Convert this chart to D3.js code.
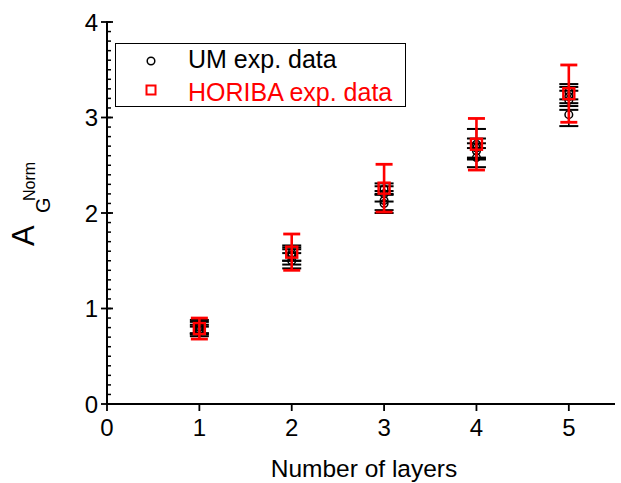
<!DOCTYPE html>
<html>
<head>
<meta charset="utf-8">
<script src="https://cdn.jsdelivr.net/npm/d3@7"></script>
<style>
  html, body { margin: 0; padding: 0; background: #fff; }
  svg { display: block; font-family: "Liberation Sans", Arial, sans-serif; }
</style>
</head>
<body>
<svg id="chart" width="621" height="483"></svg>
<script>
// ---- Data ----
const xTicks = [0, 1, 2, 3, 4, 5];
const yTicks = [0, 1, 2, 3, 4];

// UM experimental data (several measurements per layer count)
const umLayer = [1, 1, 1, 1, 2, 2, 2, 2, 3, 3, 3, 3, 4, 4, 4, 4, 5, 5, 5, 5];
const umValue = [0.81, 0.80, 0.78, 0.76, 1.58, 1.56, 1.55, 1.50, 2.25, 2.20, 2.13, 2.10, 2.72, 2.68, 2.65, 2.58, 3.27, 3.22, 3.18, 3.03];
const umError = [0.07, 0.06, 0.05, 0.05, 0.08, 0.06, 0.09, 0.08, 0.06, 0.08, 0.10, 0.10, 0.16, 0.10, 0.08, 0.10, 0.08, 0.10, 0.10, 0.12];

// HORIBA experimental data
const horibaLayer = [1, 2, 3, 4, 5];
const horibaValue = [0.79, 1.59, 2.26, 2.72, 3.25];
const horibaError = [0.11, 0.19, 0.25, 0.27, 0.30];

const seriesNames = ["UM exp. data", "HORIBA exp. data"];

// ---- Chart ----
const svg = d3.select("#chart");
const x = d3.scaleLinear().domain([0, 5.5]).range([107, 615]);
const y = d3.scaleLinear().domain([0, 4]).range([404, 22]);

// axes
const axisG = svg.append("g");
const minor = d3.range(0, 4.0001, 0.1);
axisG.selectAll("line.minor").data(minor).enter().append("line")
  .attr("x1", x(0)).attr("x2", x(0) + 4)
  .attr("y1", d => y(d)).attr("y2", d => y(d))
  .attr("stroke", "#000").attr("stroke-width", 1.5);
axisG.selectAll("line.ymaj").data(yTicks).enter().append("line")
  .attr("x1", x(0) - 6).attr("x2", x(0) + 6)
  .attr("y1", d => y(d)).attr("y2", d => y(d))
  .attr("stroke", "#000").attr("stroke-width", 1.8);
axisG.selectAll("line.xmaj").data(xTicks).enter().append("line")
  .attr("x1", d => x(d)).attr("x2", d => x(d))
  .attr("y1", y(0)).attr("y2", y(0) + 7)
  .attr("stroke", "#000").attr("stroke-width", 1.8);
axisG.append("line").attr("x1", x(0)).attr("x2", x(0)).attr("y1", y(0) + 1).attr("y2", y(4) - 1)
  .attr("stroke", "#000").attr("stroke-width", 2);
axisG.append("line").attr("x1", x(0) - 1).attr("x2", x(5.5)).attr("y1", y(0)).attr("y2", y(0))
  .attr("stroke", "#000").attr("stroke-width", 2);

// tick labels
svg.selectAll("text.ylab").data(yTicks).enter().append("text")
  .attr("x", x(0) - 9).attr("y", d => y(d) + 8.5)
  .attr("text-anchor", "end").attr("font-size", 24).text(d => d);
svg.selectAll("text.xlab").data(xTicks).enter().append("text")
  .attr("x", d => x(d)).attr("y", 436)
  .attr("text-anchor", "middle").attr("font-size", 24).text(d => d);

// axis titles
svg.append("text").attr("x", 364).attr("y", 477).attr("text-anchor", "middle")
  .attr("font-size", 24.5).text("Number of layers");

const yt = svg.append("g").attr("transform", "translate(34,246) rotate(-90)");
yt.append("text").attr("x", 0).attr("y", 0).attr("font-size", 31).text("A");
yt.append("text").attr("x", 33).attr("y", 16).attr("font-size", 20).text("G");
yt.append("text").attr("x", 45).attr("y", 1).attr("font-size", 16).text("Norm");

// ---- UM data (black) ----
const um = umLayer.map((l, i) => ({ l, v: umValue[i], e: umError[i] }));
const umG = svg.append("g");
um.forEach(d => {
  const cx = x(d.l);
  umG.append("line").attr("x1", cx).attr("x2", cx).attr("y1", y(d.v + d.e)).attr("y2", y(d.v - d.e))
    .attr("stroke", "#000").attr("stroke-width", 1.6);
  [d.v + d.e, d.v - d.e].forEach(t => {
    umG.append("line").attr("x1", cx - 9.5).attr("x2", cx + 9.5).attr("y1", y(t)).attr("y2", y(t))
      .attr("stroke", "#000").attr("stroke-width", 2);
  });
});
um.forEach(d => {
  umG.append("circle").attr("cx", x(d.l)).attr("cy", y(d.v)).attr("r", 3.8)
    .attr("fill", "none").attr("stroke", "#000").attr("stroke-width", 1.5);
});

// ---- HORIBA data (red) ----
const hor = horibaLayer.map((l, i) => ({ l, v: horibaValue[i], e: horibaError[i] }));
const hG = svg.append("g");
hor.forEach(d => {
  const cx = x(d.l);
  hG.append("line").attr("x1", cx).attr("x2", cx).attr("y1", y(d.v + d.e)).attr("y2", y(d.v - d.e))
    .attr("stroke", "#ff0000").attr("stroke-width", 2.6);
  [d.v + d.e, d.v - d.e].forEach(t => {
    hG.append("line").attr("x1", cx - 8.5).attr("x2", cx + 8.5).attr("y1", y(t)).attr("y2", y(t))
      .attr("stroke", "#ff0000").attr("stroke-width", 2.8);
  });
  hG.append("rect").attr("x", cx - 5.5).attr("y", y(d.v) - 5.5).attr("width", 11).attr("height", 11)
    .attr("fill", "none").attr("stroke", "#ff0000").attr("stroke-width", 2.4);
});

// ---- Legend ----
const lg = svg.append("g");
lg.append("rect").attr("x", 115.5).attr("y", 43.5).attr("width", 290).attr("height", 63)
  .attr("fill", "#fff").attr("stroke", "#000").attr("stroke-width", 1);
lg.append("circle").attr("cx", 151).attr("cy", 61).attr("r", 3.8)
  .attr("fill", "none").attr("stroke", "#000").attr("stroke-width", 1.5);
lg.append("text").attr("x", 188).attr("y", 68).attr("font-size", 25).attr("fill", "#000").text(seriesNames[0]);
lg.append("rect").attr("x", 146.5).attr("y", 85.5).attr("width", 9).attr("height", 9)
  .attr("fill", "none").attr("stroke", "#ff0000").attr("stroke-width", 2);
lg.append("text").attr("x", 188).attr("y", 101).attr("font-size", 25).attr("fill", "#ff0000").text(seriesNames[1]);
</script>
</body>
</html>
